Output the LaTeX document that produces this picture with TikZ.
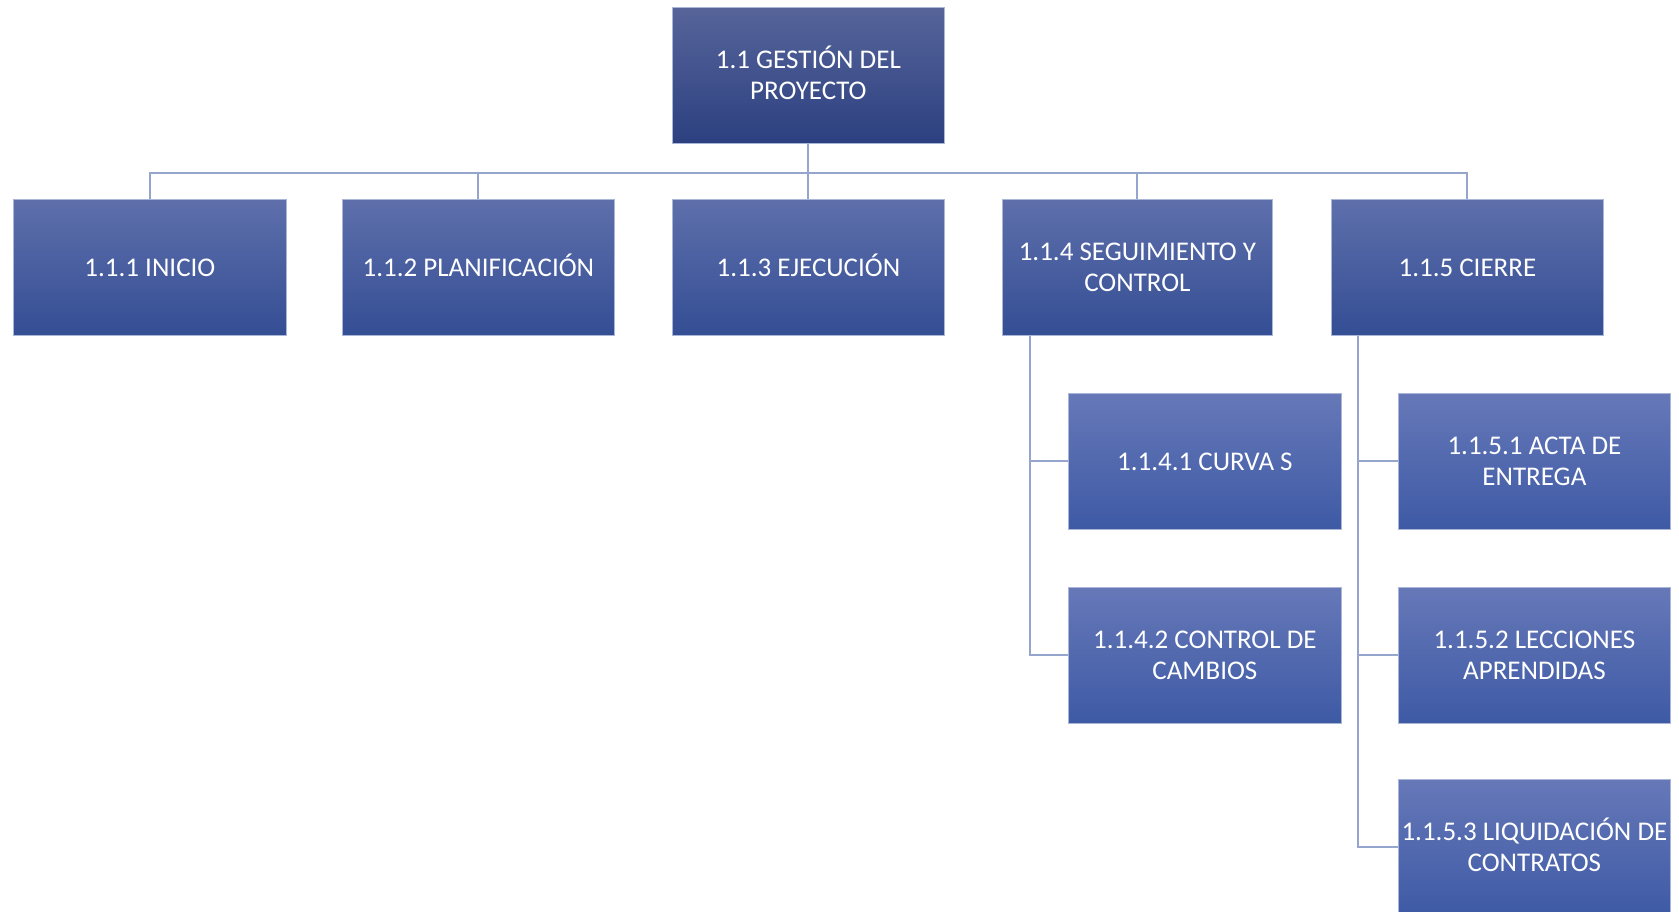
\documentclass[tikz,border=0pt]{standalone}
\usepackage{fontspec}
\setmainfont{Carlito}
\begin{document}
\begin{tikzpicture}[x=1pt,y=-1pt,
  box/.style={rectangle, draw=boxedge, line width=0.8pt, text=white, align=center,
    font=\fontsize{27}{31}\selectfont, inner sep=1pt, text height=17.4pt, text depth=0pt,
    anchor=north west, minimum height=136pt},
  two/.style={text height=48.4pt},
  lvlA/.style={box, top color=topA, bottom color=botA},
  lvlB/.style={box, top color=topB, bottom color=botB},
  lvlC/.style={box, top color=topC, bottom color=botC},
  link/.style={draw=linkc, line width=2pt}]
\definecolor{topA}{RGB}{86,100,154}
\definecolor{botA}{RGB}{44,64,128}
\definecolor{topB}{RGB}{94,111,171}
\definecolor{botB}{RGB}{52,78,148}
\definecolor{topC}{RGB}{102,120,184}
\definecolor{botC}{RGB}{62,90,165}
\definecolor{boxedge}{RGB}{170,182,215}
\definecolor{linkc}{RGB}{150,165,206}
\useasboundingbox (0,0) rectangle (1679,912);
\begin{scope}
\clip (0,0) rectangle (1679,912);
% level 1
\node[lvlA, two, minimum width=272pt] (root) at (672,7) {1.1 GESTIÓN DEL\\PROYECTO};
% level 2
\node[lvlB, minimum width=273pt] (inicio) at (13,199) {1.1.1 INICIO};
\node[lvlB, minimum width=272pt] (plan) at (342,199) {1.1.2 PLANIFICACIÓN};
\node[lvlB, minimum width=272pt] (ejec) at (672,199) {1.1.3 EJECUCIÓN};
\node[lvlB, two, minimum width=270pt] (seg) at (1002,199) {1.1.4 SEGUIMIENTO Y\\CONTROL};
\node[lvlB, minimum width=272pt] (cierre) at (1331,199) {1.1.5 CIERRE};
% level 3
\node[lvlC, minimum width=273pt] (curva) at (1068,393) {1.1.4.1 CURVA S};
\node[lvlC, two, minimum width=273pt] (cambios) at (1068,587) {1.1.4.2 CONTROL DE\\CAMBIOS};
\node[lvlC, two, minimum width=272pt] (acta) at (1398,393) {1.1.5.1 ACTA DE\\ENTREGA};
\node[lvlC, two, minimum width=272pt] (lecc) at (1398,587) {1.1.5.2 LECCIONES\\APRENDIDAS};
\node[lvlC, two, minimum width=272pt] (liq) at (1398,779) {1.1.5.3 LIQUIDACIÓN DE\\CONTRATOS};
\end{scope}
% connectors level 1 -> 2
\coordinate (bus) at (809,173);
\draw[link] (root.south) -- (root.south |- bus);
\draw[link] (root.south |- bus) -| (inicio.north);
\draw[link] (root.south |- bus) -| (plan.north);
\draw[link] (root.south |- bus) -| (ejec.north);
\draw[link] (root.south |- bus) -| (seg.north);
\draw[link] (root.south |- bus) -| (cierre.north);
% connectors level 2 -> 3
\coordinate (segdown) at ([xshift=28pt]seg.south west);
\coordinate (cierdown) at ([xshift=27pt]cierre.south west);
\draw[link] (segdown) |- (curva.west);
\draw[link] (segdown) |- (cambios.west);
\draw[link] (cierdown) |- (acta.west);
\draw[link] (cierdown) |- (lecc.west);
\draw[link] (cierdown) |- (liq.west);
\end{tikzpicture}
\end{document}
